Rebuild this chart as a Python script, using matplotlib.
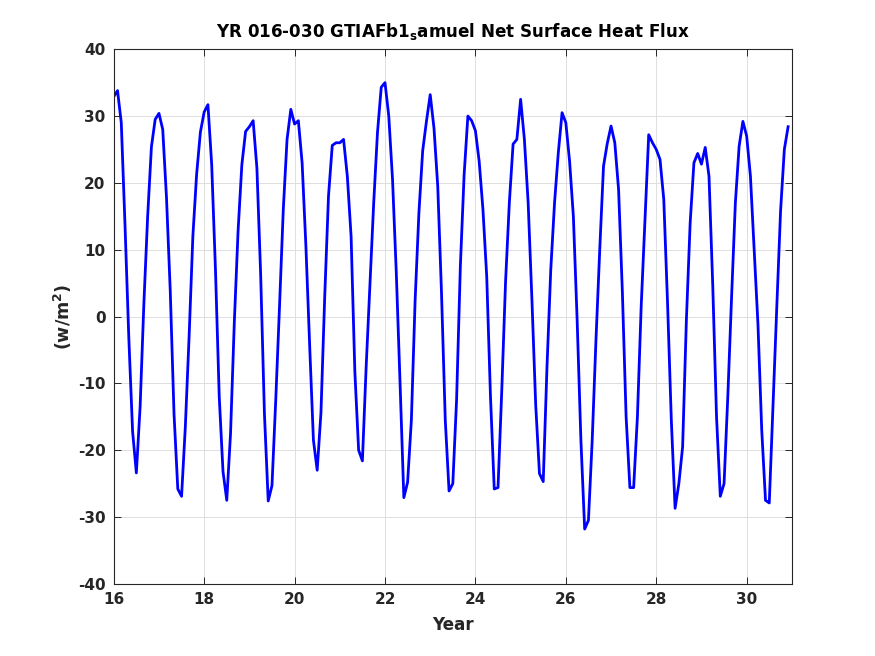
import numpy as np
import matplotlib
matplotlib.use("Agg")
import matplotlib.pyplot as plt

# monthly net surface heat flux (w/m^2), one list per model year
yr16 = [32.9, 33.8, 29.0, 13.5, -3.2, -17.2, -23.4, -13.5, 2.0, 15.0, 25.4, 29.5]
yr17 = [30.4, 28.0, 17.8, 3.8, -14.6, -25.8, -26.9, -16.5, -3.0, 12.0, 21.3, 27.6]
yr18 = [30.6, 31.7, 22.7, 7.0, -12.0, -23.2, -27.5, -17.5, -0.9, 12.8, 22.7, 27.7]
yr19 = [28.4, 29.3, 22.2, 6.2, -14.6, -27.6, -25.3, -12.5, 1.5, 16.0, 26.5, 31.0]
yr20 = [28.8, 29.3, 23.0, 10.6, -4.3, -18.5, -23.0, -14.4, 3.0, 18.0, 25.6, 26.0]
yr21 = [26.0, 26.5, 21.0, 12.0, -8.3, -20.0, -21.6, -7.5, 4.6, 17.0, 27.5, 34.3]
yr22 = [35.0, 30.0, 20.5, 6.5, -10.0, -27.1, -24.8, -15.5, 2.5, 15.5, 24.8, 29.2]
yr23 = [33.2, 28.2, 19.5, 3.5, -15.5, -26.1, -25.0, -12.5, 7.5, 21.2, 30.0, 29.3]
yr24 = [27.8, 23.2, 16.0, 6.0, -12.0, -25.8, -25.6, -11.0, 5.2, 17.0, 25.8, 26.5]
yr25 = [32.5, 26.5, 17.0, 2.5, -13.2, -23.5, -24.7, -7.5, 7.0, 17.0, 24.5, 30.5]
yr26 = [29.0, 23.2, 15.0, -0.5, -18.5, -31.8, -30.5, -18.5, -3.5, 10.0, 22.5, 25.9]
yr27 = [28.5, 26.0, 19.0, 3.8, -15.0, -25.6, -25.6, -15.0, 1.5, 14.2, 27.2, 26.0]
yr28 = [25.0, 23.5, 17.5, 2.0, -15.5, -28.7, -25.0, -19.5, -0.5, 14.0, 23.0, 24.4]
yr29 = [22.8, 25.3, 21.0, 4.6, -15.0, -26.9, -25.0, -11.9, 3.0, 17.0, 25.5, 29.2]
yr30 = [27.0, 21.0, 10.0, -1.2, -17.0, -27.5, -27.9, -13.0, 1.5, 15.8, 25.0, 28.4]

flux = np.concatenate([yr16, yr17, yr18, yr19, yr20, yr21, yr22, yr23,
                       yr24, yr25, yr26, yr27, yr28, yr29, yr30])
time = 16 + np.arange(len(flux)) / 12.0

plt.rcParams['font.family'] = ['DejaVu Sans']
plt.rcParams['font.weight'] = 'bold'
plt.rcParams['axes.labelweight'] = 'bold'
plt.rcParams['axes.titleweight'] = 'bold'
plt.rcParams['mathtext.default'] = 'bf'
plt.rcParams['axes.unicode_minus'] = False

dark = '#262626'

fig = plt.figure(figsize=(8.75, 6.56), dpi=100)
ax = fig.add_axes([0.13, 0.11, 0.775, 0.815])

ax.plot(time, flux, '-', color=(0, 0, 1), lw=2.0)

ax.set_xlim(16, 31)
ax.set_ylim(-40, 40)
ax.set_xticks(np.arange(16, 31, 2))
ax.set_yticks(np.arange(-40, 41, 10))

ax.grid(True, color='#dedede', lw=0.7)
ax.set_axisbelow(True)
ax.tick_params(direction='in', top=True, right=True, length=5, width=0.7,
               labelsize=11, colors=dark, pad=6)
for s in ax.spines.values():
    s.set_color(dark)
    s.set_linewidth(0.8)

ax.set_title(r'YR 016-030 GTIAFb1$_{s}$amuel Net Surface Heat Flux',
             fontsize=12.1, color='black', pad=9)
ax.set_xlabel('Year', fontsize=12.1, color=dark, labelpad=6)
ax.set_ylabel(r'(w/m$^{2}$)', fontsize=12.6, color=dark, labelpad=3)

fig.savefig('out.png', dpi=100)
